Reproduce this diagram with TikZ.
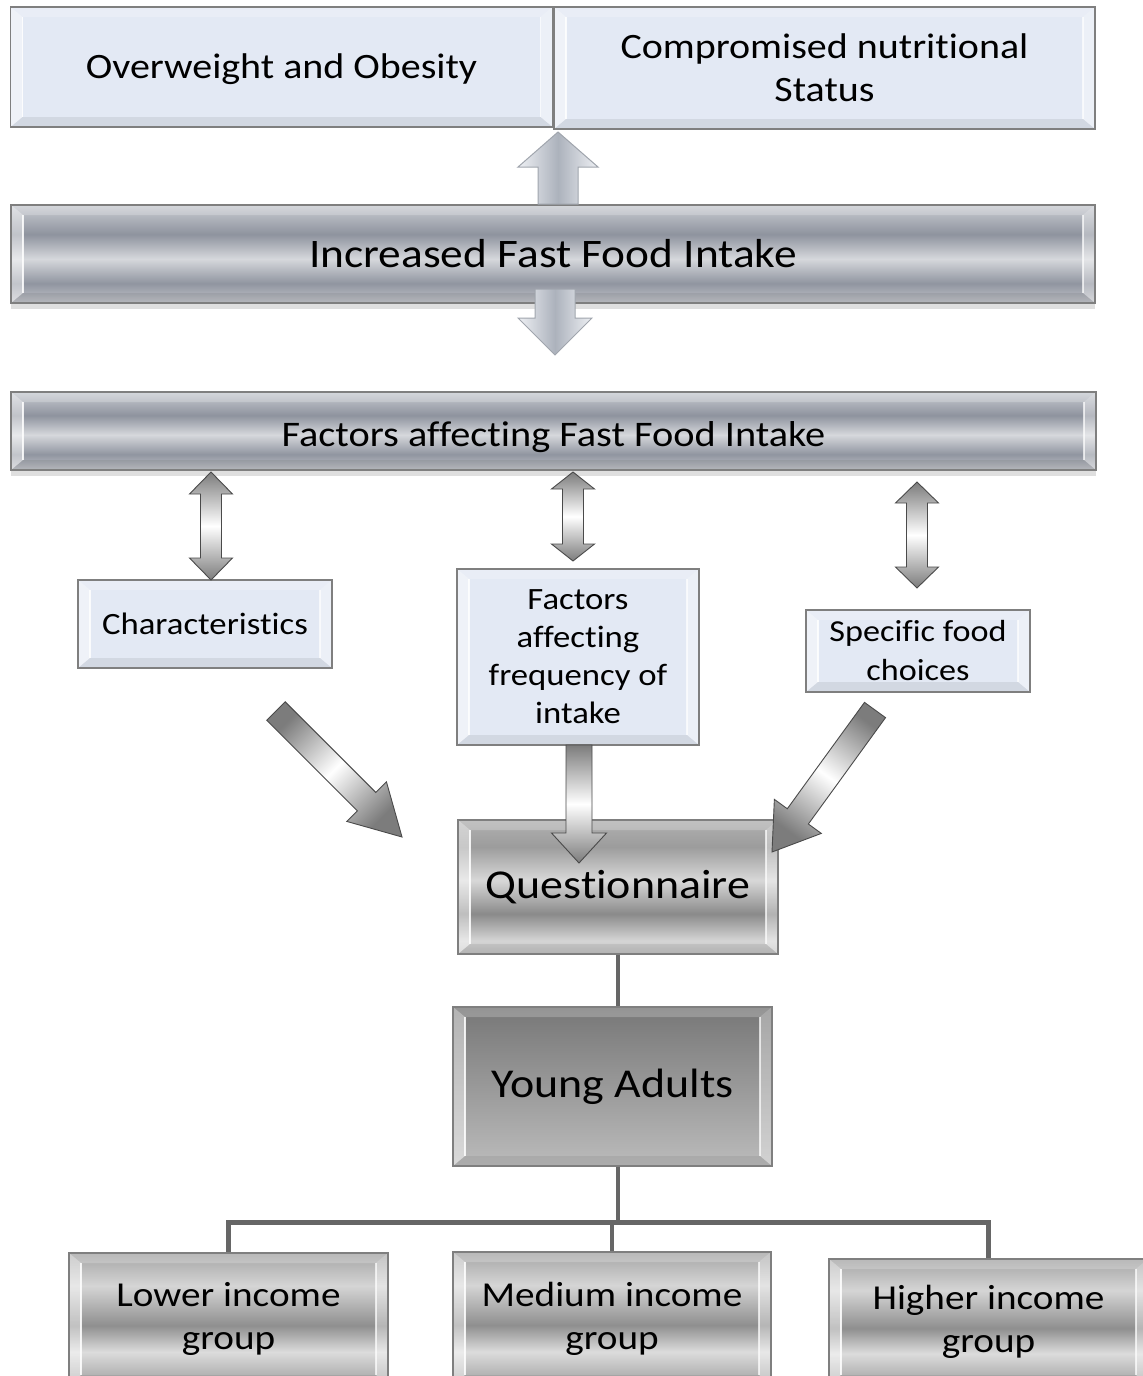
\documentclass[tikz,border=0pt]{standalone}
\usepackage{fontspec}
\setmainfont{Carlito}[FakeStretch=1.12, Ligatures=NoCommon]
\usetikzlibrary{calc,shadows}

\definecolor{lblue}{HTML}{E3E9F4}
\definecolor{boxline}{HTML}{7F7F7F}
\definecolor{linkgray}{HTML}{666666}
\definecolor{agray}{HTML}{7C7C7C}
\definecolor{aline}{HTML}{4A4A4A}
\definecolor{lmLt}{HTML}{EEF0F4}
\definecolor{lmDk}{HTML}{ACB2BC}
\definecolor{lmLine}{HTML}{A0A5AD}
\definecolor{yaTop}{HTML}{777777}
\definecolor{yaBot}{HTML}{BBBBBB}

% bluish metal for the two long bars
\definecolor{bmA}{HTML}{C9CCD2}
\definecolor{bmB}{HTML}{8E939E}
\definecolor{bmC}{HTML}{D6D8DC}
\definecolor{bmD}{HTML}{9095A0}
\definecolor{bmE}{HTML}{C4C6CB}
\pgfdeclareverticalshading{barmetal}{100bp}{%
  color(0bp)=(bmE); color(25bp)=(bmE); color(35bp)=(bmD); color(47.5bp)=(bmC);
  color(60bp)=(bmB); color(75bp)=(bmA); color(100bp)=(bmA)}

% neutral metal for the questionnaire box
\definecolor{qmA}{HTML}{B0B0B0}
\definecolor{qmB}{HTML}{9C9C9C}
\definecolor{qmC}{HTML}{D8D8D8}
\definecolor{qmD}{HTML}{8A8A8A}
\definecolor{qmE}{HTML}{D5D5D5}
\definecolor{qmF}{HTML}{C0C0C0}
\pgfdeclareverticalshading{qmetal}{100bp}{%
  color(0bp)=(qmF); color(25bp)=(qmF); color(30bp)=(qmE); color(40bp)=(qmD);
  color(52.5bp)=(qmC); color(65bp)=(qmB); color(75bp)=(qmA); color(100bp)=(qmA)}

% neutral metal for the income group boxes
\definecolor{gmA}{HTML}{A5A5A5}
\definecolor{gmB}{HTML}{D5D5D5}
\definecolor{gmC}{HTML}{8F8F8F}
\definecolor{gmD}{HTML}{DCDCDC}
\definecolor{gmE}{HTML}{A0A0A0}
\pgfdeclareverticalshading{gmetal}{100bp}{%
  color(0bp)=(gmE); color(25bp)=(gmE); color(37.5bp)=(gmD); color(47.5bp)=(gmC);
  color(62.5bp)=(gmB); color(75bp)=(gmA); color(100bp)=(gmA)}

% gray-white-gray along block arrows
\pgfdeclareverticalshading{arrowgrad}{100bp}{%
  color(0bp)=(agray); color(25bp)=(agray); color(50bp)=(white);
  color(75bp)=(agray); color(100bp)=(agray)}

\newcommand\fsz[2]{\fontsize{#1}{#2}\selectfont}
% lower a label without changing the size of its node
\newcommand\lowered[2]{\raisebox{-#1}[\height][\depth]{#2}}

% block arrow: [style]{from}{to}{shaft half width}{head half width}{head length}
\newcommand\blockarrow[6][]{%
  \coordinate (bac) at ($(#3)!#6!(#2)$);
  \path[#1] ($(#2)!#4!90:(#3)$) -- ($(bac)!#4!-90:(#2)$) -- ($(bac)!#5!-90:(#2)$)
    -- (#3) -- ($(bac)!#5!90:(#2)$) -- ($(bac)!#4!90:(#2)$)
    -- ($(#2)!#4!-90:(#3)$) -- cycle;}

% double-headed block arrow: [style]{end}{end}{shaft half width}{head half width}{head length}
\newcommand\dblarrow[6][]{%
  \coordinate (dac) at ($(#2)!#6!(#3)$);
  \coordinate (dad) at ($(#3)!#6!(#2)$);
  \path[#1] (#2) -- ($(dac)!#5!90:(#3)$) -- ($(dac)!#4!90:(#3)$)
    -- ($(dad)!#4!-90:(#2)$) -- ($(dad)!#5!-90:(#2)$) -- (#3)
    -- ($(dad)!#5!90:(#2)$) -- ($(dad)!#4!90:(#2)$)
    -- ($(dac)!#4!-90:(#3)$) -- ($(dac)!#5!-90:(#3)$) -- cycle;}

\tikzset{
  bevel/.style={path picture={
    \coordinate (bvA) at (path picture bounding box.north west);
    \coordinate (bvC) at (path picture bounding box.south east);
    \coordinate (bvB) at (bvA -| bvC);
    \coordinate (bvD) at (bvC -| bvA);
    \fill[white,opacity=.45] (bvA) -- ([shift={(12,10)}]bvA) -- ([shift={(12,-10)}]bvD) -- (bvD) -- cycle;
    \fill[white,opacity=.35] (bvB) -- ([shift={(-12,10)}]bvB) -- ([shift={(-12,-10)}]bvC) -- (bvC) -- cycle;
    \fill[white,opacity=.22] (bvA) -- (bvB) -- ([shift={(-12,10)}]bvB) -- ([shift={(12,10)}]bvA) -- cycle;
    \fill[black,opacity=.07] (bvD) -- (bvC) -- ([shift={(-12,-10)}]bvC) -- ([shift={(12,-10)}]bvD) -- cycle;
    \draw[white,opacity=.85,line width=1.6] ([shift={(12,10)}]bvA) -- ([shift={(12,-10)}]bvD);
    \draw[white,opacity=.7,line width=1.6] ([shift={(-12,10)}]bvB) -- ([shift={(-12,-10)}]bvC);
  }},
  base/.style={draw=boxline, line width=1.2, inner sep=0, align=center, text=black, bevel},
  lbox/.style={base, fill=lblue},
  barbox/.style={base, shading=barmetal, shade,
    drop shadow={shadow xshift=0pt, shadow yshift=-6pt, opacity=.25, fill=black!50}},
  qbox/.style={base, shading=qmetal, shade},
  gbox/.style={base, shading=gmetal, shade},
  yabox/.style={base, top color=yaTop, bottom color=yaBot},
  link/.style={draw=linkgray, line width=4.5},
  grayarrow/.style={draw=aline, line width=0.9, shading=arrowgrad, shade},
  lightarrow/.style={draw=lmLine, line width=1, left color=lmLt, right color=lmLt, middle color=lmDk},
}

\begin{document}
\begin{tikzpicture}[x=1pt,y=-1pt]
\useasboundingbox (0,0) rectangle (1143,1376);

% outcome boxes
\node[lbox, minimum width=542, minimum height=120, font=\fsz{35.7}{42}] (ob) at (281.5,67) {\lowered{2pt}{Overweight and Obesity}};
\node[lbox, minimum width=541, minimum height=122, font=\fsz{35.7}{43}] (cns) at (824.5,68) {Compromised nutritional\\Status};

% main bars
\node[barbox, minimum width=1084, minimum height=98, font=\fsz{40.5}{46}] (inc) at (553,254) {Increased Fast Food Intake};
\node[barbox, minimum width=1085, minimum height=78, font=\fsz{36}{42}] (fac) at (553.5,431) {\lowered{6pt}{Factors affecting Fast Food Intake}};

% factor boxes
\node[lbox, minimum width=254, minimum height=88, font=\fsz{31}{38}] (chr) at (205,624) {Characteristics};
\node[lbox, minimum width=242, minimum height=176, font=\fsz{31}{38}] (frq) at (578,657) {Factors\\affecting\\frequency of\\intake};
\node[lbox, minimum width=224, minimum height=82, font=\fsz{30.5}{39}] (spc) at (918,651) {Specific food\\choices};

% survey and sample
\node[qbox, minimum width=320, minimum height=134, font=\fsz{41}{46}] (q) at (618,887) {Questionnaire};
\node[yabox, minimum width=319, minimum height=159, font=\fsz{41}{46}] (ya) at (612.5,1086.5) {Young Adults};

\node[gbox, minimum width=319, minimum height=132, font=\fsz{35}{43}] (low) at (228.5,1319) {Lower income\\group};
\node[gbox, minimum width=318, minimum height=133, font=\fsz{35}{43}] (med) at (612,1318.5) {Medium income\\group};
\node[gbox, minimum width=319, minimum height=126, font=\fsz{35}{43}] (high) at (988.5,1322) {Higher income\\group};

% tree connectors
\draw[link] (q.south) -- (q.south |- ya.north);
\coordinate (jn) at ($(ya.south -| q.south)+(0,56)$);
\draw[link] (ya.south -| q.south) -- (jn);
\draw[link] (jn) -| (low.north);
\draw[link] (jn) -| (med.north);
\draw[link] (jn) -| (high.north);

% light arrows between outcome boxes and the intake bar
\coordinate (upS) at (558,204);
\coordinate (upT) at (558,132);
\blockarrow[lightarrow]{upS}{upT}{20pt}{40pt}{35pt}
\coordinate (dnS) at (555,289);
\coordinate (dnT) at (555,355);
\blockarrow[lightarrow]{dnS}{dnT}{20pt}{37pt}{37pt}

% two-way arrows between the factors bar and the factor boxes
\coordinate (d1a) at (211,472);
\coordinate (d1b) at (211,580);
\dblarrow[grayarrow]{d1a}{d1b}{10.5pt}{21.5pt}{22pt}
\coordinate (d2a) at (573,472);
\coordinate (d2b) at (573,561);
\dblarrow[grayarrow]{d2a}{d2b}{10.5pt}{21.5pt}{17pt}
\coordinate (d3a) at (917,482);
\coordinate (d3b) at (917,588);
\dblarrow[grayarrow]{d3a}{d3b}{10.5pt}{21.5pt}{21pt}

% arrows into the questionnaire
\coordinate (l1) at (276,711);
\coordinate (l2) at (402,837);
\blockarrow[grayarrow, shading angle=45]{l1}{l2}{13pt}{28pt}{50pt}
\coordinate (m1) at (579,745);
\coordinate (m2) at (579,863);
\blockarrow[grayarrow]{m1}{m2}{13pt}{27.5pt}{30pt}
\coordinate (r1) at (875,710);
\coordinate (r2) at (772,852);
\blockarrow[grayarrow, shading angle=-36]{r1}{r2}{13pt}{29pt}{44pt}

\end{tikzpicture}
\end{document}
